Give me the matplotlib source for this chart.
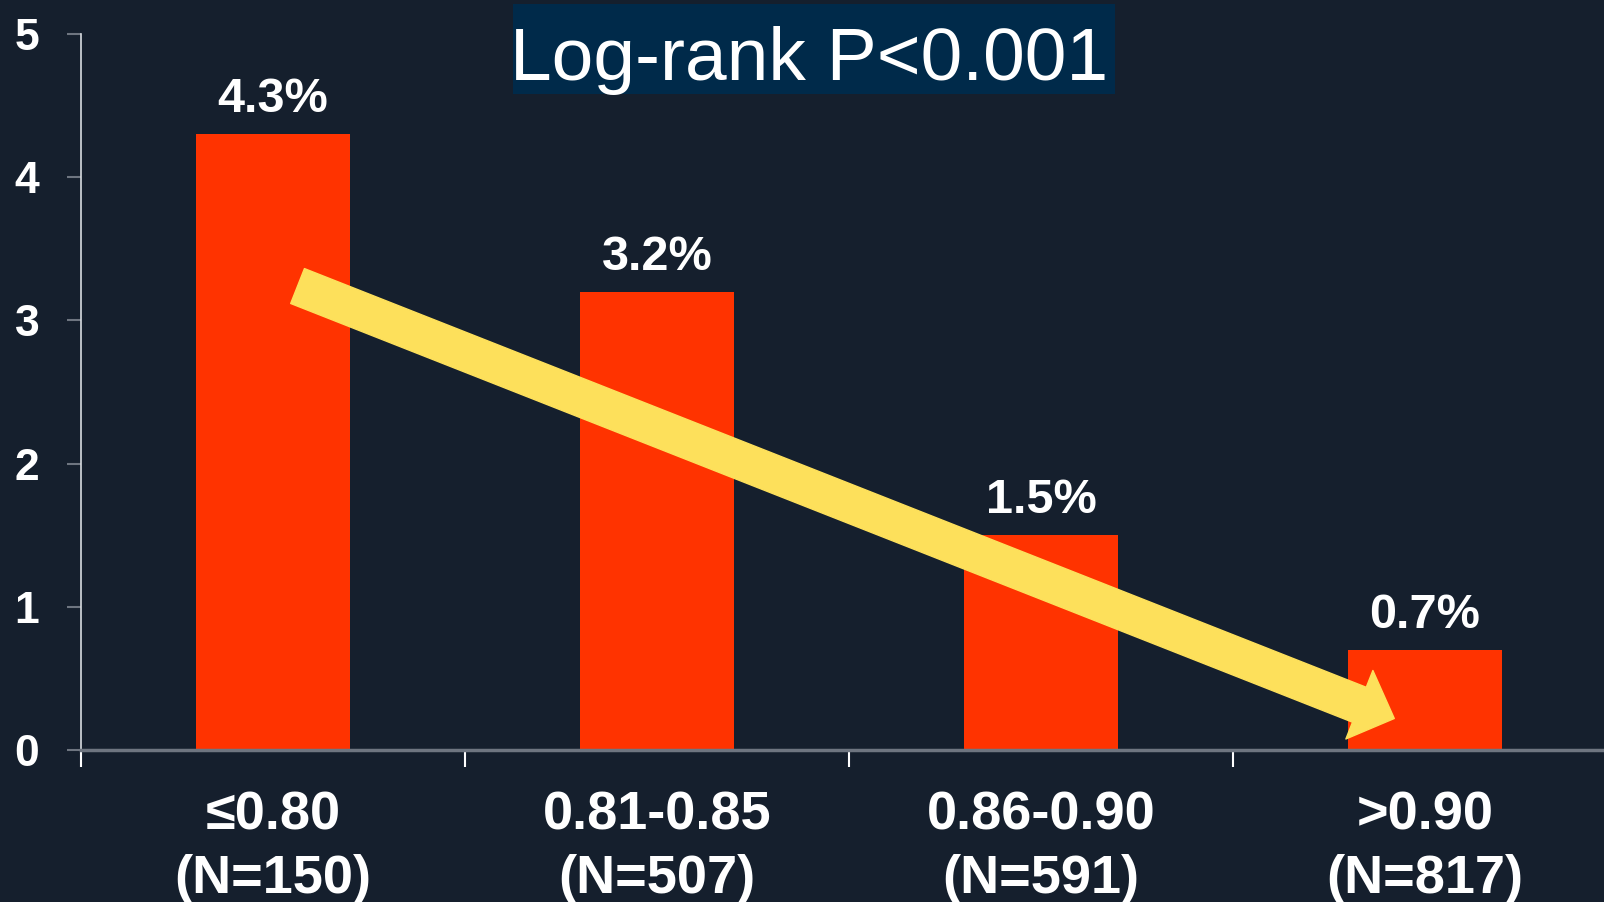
import matplotlib
matplotlib.use("Agg")
import matplotlib.pyplot as plt
from matplotlib.patches import FancyArrowPatch, Rectangle

# Event rate by ratio category
categories = ["\u22640.80", "0.81-0.85", "0.86-0.90", ">0.90"]
counts = [150, 507, 591, 817]
rates = [4.3, 3.2, 1.5, 0.7]
yticks = [0, 1, 2, 3, 4, 5]
title = "Log-rank P<0.001"

# trend arrow endpoints (category position, rate)
arrow_start = (0.064, 3.24)
arrow_end = (2.92, 0.22)

BG = "#151F2D"
BAR = "#FF3300"
ARROW = "#FDE05B"
BOX = "#002A4A"
GREY = "#6E7580"

plt.rcParams["font.family"] = ["Liberation Sans", "DejaVu Sans"]

fig = plt.figure(figsize=(16.04, 9.02), dpi=100, facecolor=BG)
ax = fig.add_axes([81 / 1604, 152 / 902, 1 - 81 / 1604, (750 - 34) / 902])
ax.set_facecolor(BG)

x = list(range(len(categories)))
ax.bar(x, rates, width=0.4, color=BAR, zorder=2)

for xi, r in zip(x, rates):
    ax.annotate(f"{r:.1f}%", (xi, r), xytext=(0, 16), textcoords="offset points",
                ha="center", va="baseline", color="white", fontsize=35,
                fontweight="bold")

# y axis
ax.set_yticks(yticks)
ax.set_yticklabels([str(t) for t in yticks], fontsize=32, fontweight="bold",
                   color="white")
ax.tick_params(axis="y", direction="out", length=10, width=1.5, color=GREY, pad=20)

# x axis: boundary ticks and centred category labels
ax.set_xticks([-0.5, 0.5, 1.5, 2.5])
ax.set_xticklabels([])
ax.tick_params(axis="x", which="major", direction="out", length=12, width=1.5,
               color="white")
ax.set_xticks(x, [f"{c}\n(N={n})" for c, n in zip(categories, counts)], minor=True)
ax.tick_params(axis="x", which="minor", length=0, pad=29)
for lab in ax.get_xticklabels(minor=True):
    lab.set_fontsize(39)
    lab.set_fontweight("bold")
    lab.set_color("white")
    lab.set_linespacing(1.36)

ax.set_xlim(-0.5, -0.5 + (1604 - 81) / 384)
ax.set_ylim(0, 5)

for side in ("top", "right"):
    ax.spines[side].set_visible(False)
ax.spines["left"].set_color("#D8DCE0")
ax.spines["left"].set_linewidth(1.2)
ax.spines["left"].set_bounds(0, 5)
ax.spines["bottom"].set_color(GREY)
ax.spines["bottom"].set_linewidth(2.5)
ax.spines["bottom"].set_zorder(3)

arrow = FancyArrowPatch(arrow_start, arrow_end, transform=ax.transData,
                        arrowstyle="simple,head_length=27,head_width=53,tail_width=27",
                        mutation_scale=1, shrinkA=0, shrinkB=0,
                        color=ARROW, zorder=4, clip_on=False)
ax.add_patch(arrow)

# title box
fig.patches.append(Rectangle((513 / 1604, (902 - 94) / 902), 602 / 1604, 90 / 902,
                             transform=fig.transFigure, facecolor=BOX,
                             edgecolor="none", zorder=1))
fig.text(809 / 1604, (902 - 80) / 902, title, ha="center", va="baseline",
         color="white", fontsize=54, zorder=5)

fig.savefig("out.png", dpi=100, facecolor=BG)
